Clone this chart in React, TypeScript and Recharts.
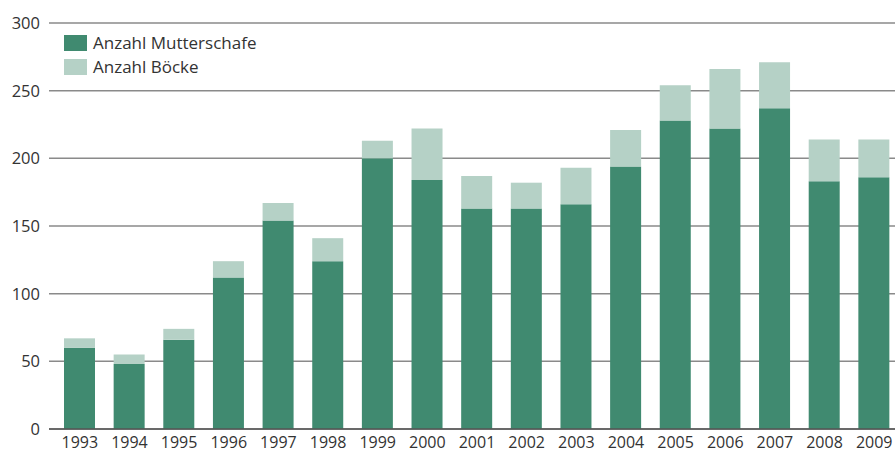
import React from 'react';
import { BarChart, Bar, XAxis, YAxis, CartesianGrid } from 'recharts';

const years = ['1993','1994','1995','1996','1997','1998','1999','2000','2001','2002','2003','2004','2005','2006','2007','2008','2009'];
const mutterschafe = [60, 48, 66, 112, 154, 124, 200, 184, 163, 163, 166, 194, 228, 222, 237, 183, 186];
const boecke = [7, 7, 8, 12, 13, 17, 13, 38, 24, 19, 27, 27, 26, 44, 34, 31, 28];
const yTicks = [0, 50, 100, 150, 200, 250, 300];

const seriesNames = ['Anzahl Mutterschafe', 'Anzahl Böcke'];
const colors = ['#408a70', '#b5d1c6'];

const data = years.map((y, i) => ({ year: y, m: mutterschafe[i], b: boecke[i] }));

const FONT = '"Open Sans", sans-serif';

const LegendBox = () => (
  <div style={{ position: 'absolute', left: 64, top: 31, fontFamily: FONT, fontSize: 17, color: '#333', lineHeight: '24px' }}>
    {seriesNames.map((n, i) => (
      <div key={n} style={{ display: 'flex', alignItems: 'center', height: 24 }}>
        <span style={{ display: 'inline-block', width: 23, height: 16, background: colors[i], marginRight: 6 }} />
        <span>{n}</span>
      </div>
    ))}
  </div>
);

export default function App() {
  return (
    <div style={{ position: 'absolute', left: 0, top: 0, width: 895, height: 454, overflow: 'hidden', background: '#fff' }}>
      <BarChart width={899} height={454} data={data} margin={{ top: 23, right: 0, bottom: 0, left: 0 }} barSize={31}>
        <CartesianGrid horizontal vertical={false} stroke="#8a8a8a" strokeWidth={1.5} />
        <XAxis
          dataKey="year"
          height={25}
          padding={{ left: 6, right: 0 }}
          tickLine={false}
          tickMargin={2}
          axisLine={{ stroke: '#555', strokeWidth: 1.5 }}
          tick={{ fontFamily: FONT, fontSize: 16, fill: '#333' }}
          interval={0}
        />
        <YAxis
          width={49}
          domain={[0, 300]}
          ticks={yTicks}
          tickLine={false}
          axisLine={false}
          tickMargin={3}
          tick={{ fontFamily: FONT, fontSize: 16.5, fill: '#333' }}
        />
        <Bar dataKey="m" name={seriesNames[0]} stackId="a" fill={colors[0]} isAnimationActive={false} />
        <Bar dataKey="b" name={seriesNames[1]} stackId="a" fill={colors[1]} isAnimationActive={false} />
      </BarChart>
      <LegendBox />
    </div>
  );
}
